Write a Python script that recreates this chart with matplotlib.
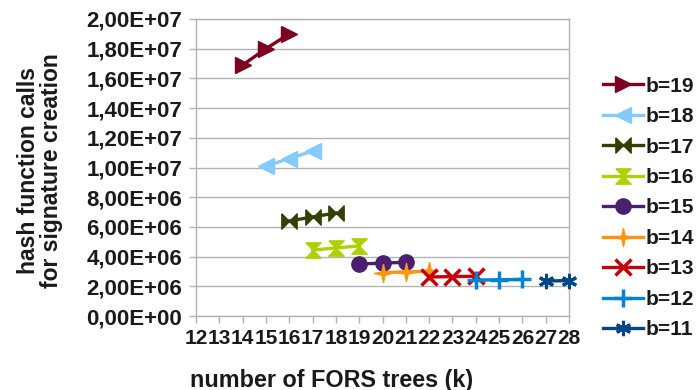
import matplotlib
matplotlib.use("Agg")
import matplotlib.pyplot as plt
from matplotlib.ticker import FuncFormatter, MultipleLocator

plt.rcParams['font.family'] = ['Liberation Sans', 'DejaVu Sans']
plt.rcParams['font.weight'] = 'bold'

labels = ["b=19", "b=18", "b=17", "b=16", "b=15", "b=14", "b=13", "b=12", "b=11"]
k_values = [
    [14, 15, 16],
    [15, 16, 17],
    [16, 17, 18],
    [17, 18, 19],
    [19, 20, 21],
    [20, 21, 22],
    [22, 23, 24],
    [24, 25, 26],
    [27, 28],
]
hash_calls = [
    [1.69e7, 1.80e7, 1.90e7],
    [1.01e7, 1.06e7, 1.11e7],
    [6.40e6, 6.67e6, 6.94e6],
    [4.44e6, 4.58e6, 4.72e6],
    [3.50e6, 3.56e6, 3.62e6],
    [2.92e6, 2.97e6, 3.02e6],
    [2.63e6, 2.65e6, 2.68e6],
    [2.42e6, 2.44e6, 2.46e6],
    [2.36e6, 2.38e6],
]
colors = ["#7e0021", "#83caff", "#314004", "#aecf00", "#4b1f6f",
          "#ff950e", "#c5000b", "#0084d1", "#004586"]

bowtie = [(-1, 1), (1, -1), (1, 1), (-1, -1), (-1, 1)]
hourglass = [(-1, 1), (1, 1), (-1, -1), (1, -1), (-1, 1)]
star4 = [(0, 1), (0.18, 0.18), (1, 0), (0.18, -0.18), (0, -1),
         (-0.18, -0.18), (-1, 0), (-0.18, 0.18), (0, 1)]
markers = ['>', '<', bowtie, hourglass, 'o', star4, 'x', '+', (6, 2, 0)]
msizes = [12, 12, 11, 11, 11, 13, 11, 13, 11]
mews = [1, 1, 1, 1, 1, 1, 2.5, 2.5, 2.2]

fig = plt.figure(figsize=(7.0, 3.9), dpi=100)
ax = fig.add_axes([196/700, 1 - 316/390, (569 - 196)/700, (316 - 19)/390])

for xs, ys, c, m, ms, mw, lab in zip(k_values, hash_calls, colors, markers, msizes, mews, labels):
    ax.plot(xs, ys, color=c, lw=2.4, marker=m, markersize=ms,
            markerfacecolor=c, markeredgecolor=c, markeredgewidth=mw,
            label=lab, clip_on=False, zorder=3)

ax.set_xlim(12, 28)
ax.set_ylim(0, 2e7)
ax.xaxis.set_major_locator(MultipleLocator(1))
ax.yaxis.set_major_locator(MultipleLocator(2e6))

def sci_comma(v, pos):
    if v == 0:
        return "0,00E+00"
    s = "{:.2E}".format(v)
    return s.replace('.', ',')

ax.yaxis.set_major_formatter(FuncFormatter(sci_comma))
ax.grid(axis='y', color='#b3b3b3', lw=1)
ax.set_axisbelow(True)
for sp in ax.spines.values():
    sp.set_color('#b3b3b3')
    sp.set_linewidth(1)
ax.tick_params(axis='both', colors='#b3b3b3', length=5, width=1,
               labelcolor='#1a1a1a')
ax.tick_params(axis='y', pad=5, labelsize=16.0)
ax.tick_params(axis='x', pad=4, labelsize=15.0)
for t in ax.get_xticklabels() + ax.get_yticklabels():
    t.set_fontweight('bold')

fig.text(332/700, 1 - 380/390, "number of FORS trees (k)", ha='center', va='center',
         fontsize=16.8, fontweight='bold', color='#1a1a1a')
fig.text(40/700, 1 - 171/390, "hash function calls\nfor signature creation",
         ha='center', va='center', rotation=90, fontsize=16.5, fontweight='bold',
         color='#1a1a1a', linespacing=1.0, multialignment='center')

leg = fig.legend(loc='center left', bbox_to_anchor=(603/700, 1 - 208/390),
                 frameon=False, borderpad=0, borderaxespad=0, handlelength=1.9,
                 handletextpad=0.15, labelspacing=0.55,
                 prop={'family': 'Liberation Sans', 'weight': 'bold', 'size': 15})
for t in leg.get_texts():
    t.set_color('#1a1a1a')

fig.savefig("out.png", dpi=100)
